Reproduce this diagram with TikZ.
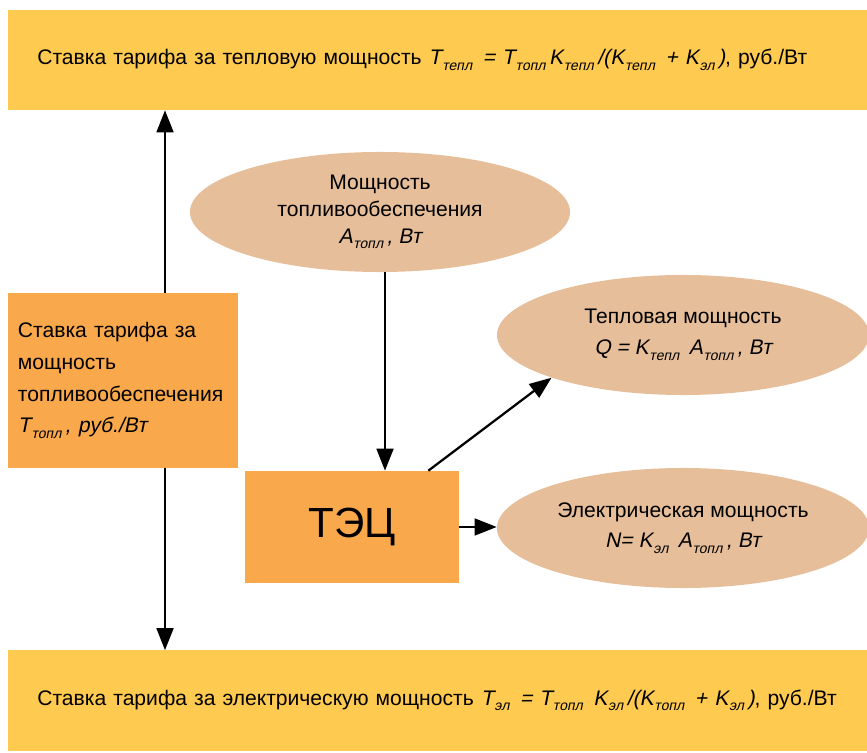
\documentclass[tikz,border=0pt]{standalone}
\usepackage{fontspec}
\setmainfont{Liberation Sans}[ItalicFont={Liberation Sans}, ItalicFeatures={FakeSlant=0.2}]
\usetikzlibrary{shapes.geometric, arrows.meta, positioning}
\definecolor{bannercolor}{RGB}{255,202,80}
\definecolor{boxcolor}{RGB}{249,168,76}
\definecolor{ovalcolor}{RGB}{230,190,153}
\newcommand{\ix}[2]{\textit{#1}\kern0.5pt\raisebox{-0.5ex}{\fontsize{10}{10}\selectfont\itshape #2}\kern2.5pt\relax}

\begin{document}
\begin{tikzpicture}[
    x=0.025cm, y=-0.025cm,
    banner/.style={fill=bannercolor, anchor=west, minimum height=2.5cm, text width=20.8cm, inner xsep=0.725cm, align=left, font=\fontsize{15}{19}\selectfont},
    block/.style={fill=boxcolor, inner sep=0pt, align=center},
    oval/.style={ellipse, fill=ovalcolor, inner sep=0pt, align=center, font=\fontsize{15}{19}\selectfont},
    arrow/.style={-{Triangle[length=0.55cm, width=0.42cm]}, line width=1.6pt}
]
    \useasboundingbox (0,0) rectangle (867,753);

    \node[banner] (heattariff) at (8,60) {Ставка тарифа за тепловую мощность \ix{T}{тепл} \textit{=} \ix{T}{топл}\ix{K}{тепл}\textit{/(}\ix{K}{тепл} \textit{+} \ix{K}{эл}\textit{)}, руб./Вт};
    \node[banner] (electariff) at (8,700.5) {Ставка тарифа за электрическую мощность \ix{T}{эл} \textit{=} \ix{T}{топл} \ix{K}{эл}\textit{/(}\ix{K}{топл} \textit{+} \ix{K}{эл}\textit{)}, руб./Вт};

    \node[block, minimum width=5.75cm, minimum height=4.375cm, text width=5.25cm, inner xsep=0.25cm, align=left, font=\fontsize{15}{22.5}\selectfont] (fueltariff) at (123,380.5)
        {Ставка тарифа за\\мощность\\топливообеспечения\\\ix{T}{топл}\textit{, руб./Вт}};
    \node[block, minimum width=5.35cm, minimum height=2.8cm, font=\fontsize{30}{36}\selectfont] (chp) at (352,527) {ТЭЦ};

    \node[oval, minimum width=9.5cm, minimum height=3cm] (fuelpower) at (380,212)
        {Мощность\\топливообеспечения\\\ix{A}{топл}\textit{, Вт}};
    \node[oval, minimum width=9.3cm, minimum height=3cm] (heatpower) at (683,335)
        {Тепловая мощность\\[3pt]\textit{Q =} \ix{K}{тепл} \ix{A}{топл}\textit{, Вт}};
    \node[oval, minimum width=9.3cm, minimum height=3cm] (elecpower) at (683,528)
        {Электрическая мощность\\[3pt]\textit{N=} \ix{K}{эл} \ix{A}{топл}\textit{, Вт}};

    \draw[arrow] ([xshift=1.05cm]fueltariff.north) -- ([xshift=1.05cm]fueltariff.north |- heattariff.south);
    \draw[arrow] ([xshift=1.05cm]fueltariff.south) -- ([xshift=1.05cm]fueltariff.south |- electariff.north);
    \draw[arrow] ([xshift=0.125cm]fuelpower.south) -- ([xshift=0.125cm]fuelpower.south |- chp.north);
    \draw[arrow] ([xshift=-0.775cm]chp.north east) -- (heatpower.198);
    \draw[arrow] (chp.east) -- (chp.east -| elecpower.west);
\end{tikzpicture}
\end{document}
